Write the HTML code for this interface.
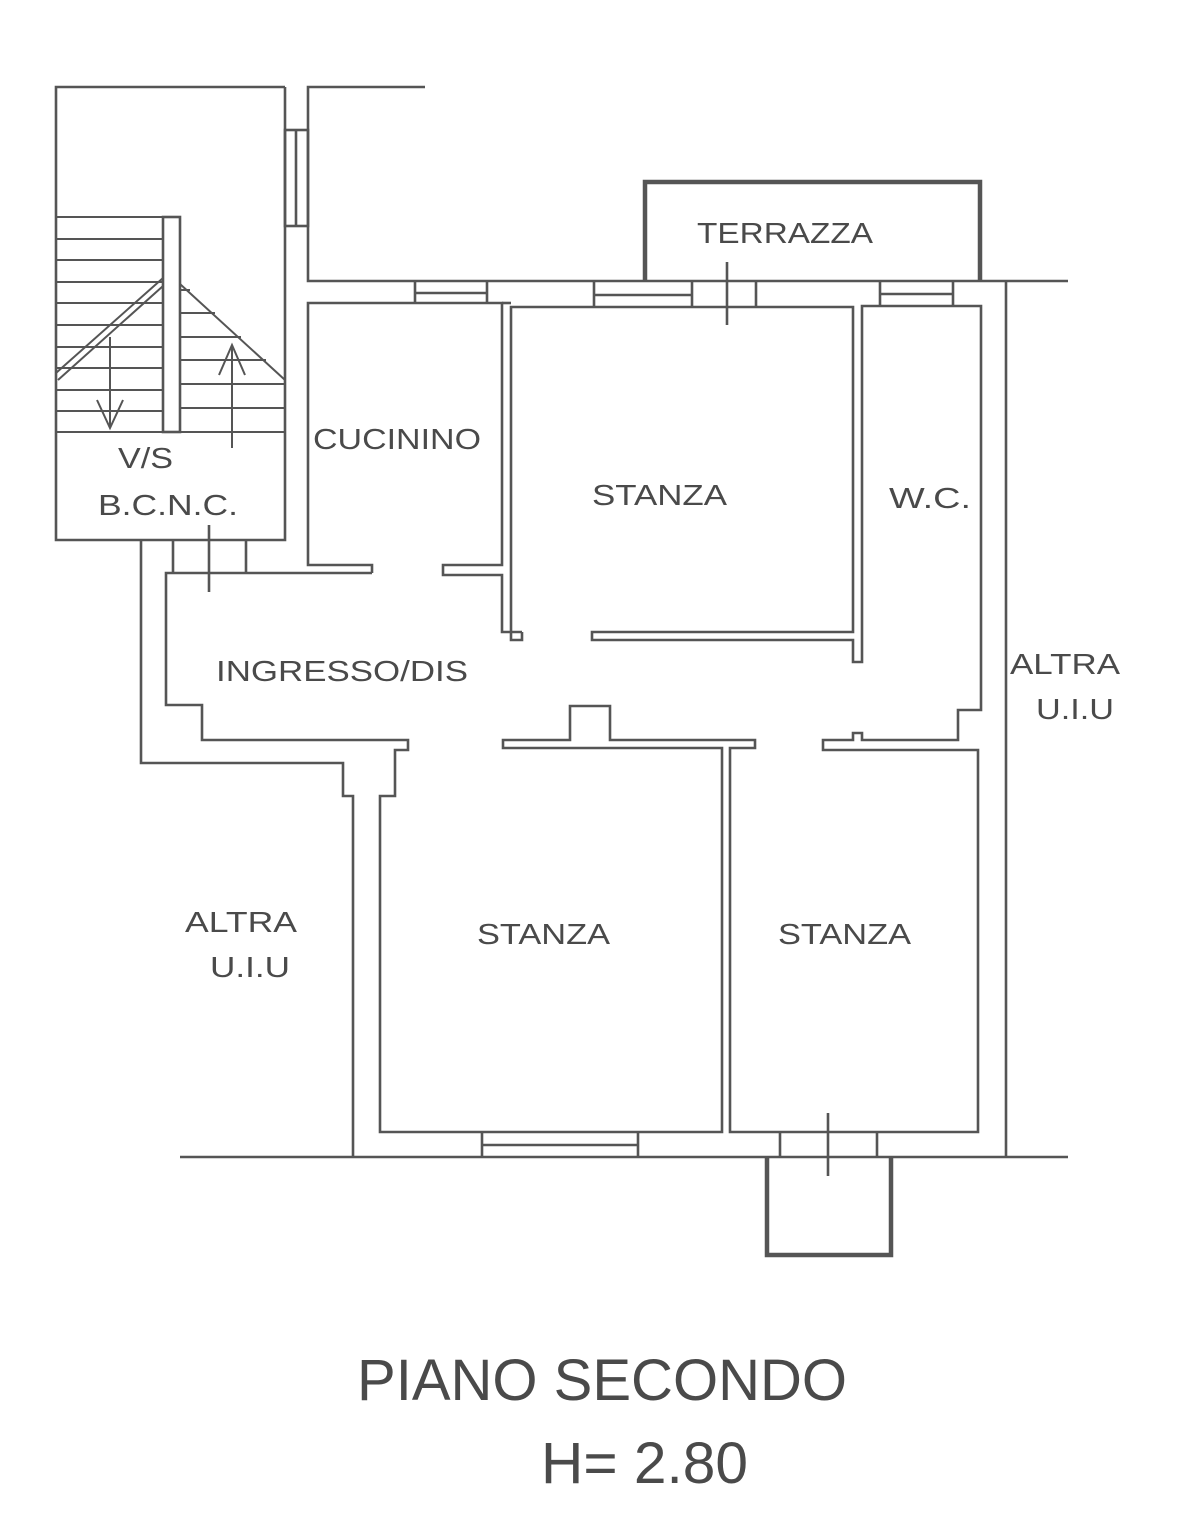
<!DOCTYPE html>
<html><head><meta charset="utf-8"><style>
html,body{margin:0;padding:0;background:#fff;}
svg{display:block;}
text{font-family:"Liberation Sans",sans-serif;fill:#4a4a4a;}
</style></head><body>
<svg width="1193" height="1523" viewBox="0 0 1193 1523" xmlns="http://www.w3.org/2000/svg">
<g fill="none" stroke="#555" stroke-width="2.6" stroke-linejoin="miter">
<!-- staircase box -->
<polyline points="285,87 56,87 56,540 285,540 285,87"/>
<!-- window in stair wall -->
<rect x="285" y="130" width="23" height="96"/>
<line x1="296" y1="130" x2="296" y2="226"/>
<!-- outer wall top-left -->
<polyline points="425,87 308,87 308,281 1068,281"/>
<!-- stairs -->
<rect x="163" y="217" width="17" height="215"/>
<g stroke-width="2">
<line x1="56" y1="217" x2="163" y2="217"/>
<line x1="56" y1="239" x2="163" y2="239"/>
<line x1="56" y1="260" x2="163" y2="260"/>
<line x1="56" y1="282" x2="163" y2="282"/>
<line x1="56" y1="303" x2="163" y2="303"/>
<line x1="56" y1="325" x2="163" y2="325"/>
<line x1="56" y1="347" x2="163" y2="347"/>
<line x1="56" y1="368" x2="163" y2="368"/>
<line x1="56" y1="390" x2="163" y2="390"/>
<line x1="56" y1="411" x2="163" y2="411"/>
<line x1="56" y1="432" x2="285" y2="432"/>
<line x1="180" y1="290" x2="190" y2="290"/>
<line x1="180" y1="313" x2="215" y2="313"/>
<line x1="180" y1="337" x2="241" y2="337"/>
<line x1="180" y1="360" x2="266" y2="360"/>
<line x1="180" y1="384" x2="285" y2="384"/>
<line x1="180" y1="408" x2="285" y2="408"/>
<line x1="56" y1="373" x2="163" y2="278"/>
<line x1="58" y1="380" x2="163" y2="286"/>
<line x1="180" y1="284" x2="285" y2="380"/>
<!-- arrows -->
<line x1="110" y1="337" x2="110" y2="428"/>
<polyline points="97,400 110,428 123,400"/>
<line x1="232" y1="448" x2="232" y2="345"/>
<polyline points="219,375 232,345 245,375"/>
</g>
<!-- stair door -->
<line x1="173" y1="540" x2="173" y2="573"/>
<line x1="246" y1="540" x2="246" y2="573"/>
<line x1="209" y1="525" x2="209" y2="592"/>
<!-- outer left wall -->
<polyline points="141,540 141,763 343,763 343,796 353,796 353,1157"/>
<!-- ingresso inner -->
<polyline points="372,573 166,573 166,705 202,705 202,740 408,740 408,750 395,750 395,796 380,796 380,1132 722,1132 722,748 503,748 503,740 570,740 570,706 610,706 610,740 755,740 755,748 730,748 730,1132 978,1132 978,750 823,750 823,740 853,740 853,733 862,733 862,740 958,740 958,710 981,710 981,306 862,306 862,662 853,662 853,640 592,640 592,632 853,632 853,307 511,307 511,640 522,640 522,632"/>
<!-- cucinino -->
<polyline points="372,573 372,565 308,565 308,303 502,303 502,565 443,565 443,575 502,575 502,632 522,632"/>
<!-- top wall inner segments/windows -->
<line x1="415" y1="281" x2="415" y2="303"/>
<line x1="487" y1="281" x2="487" y2="303"/>
<line x1="415" y1="293" x2="487" y2="293"/>
<line x1="502" y1="303" x2="511" y2="303"/>
<line x1="594" y1="281" x2="594" y2="307"/>
<line x1="692" y1="281" x2="692" y2="307"/>
<line x1="594" y1="295" x2="692" y2="295"/>
<line x1="756" y1="281" x2="756" y2="307"/>
<line x1="727" y1="262" x2="727" y2="325"/>
<line x1="880" y1="281" x2="880" y2="306"/>
<line x1="953" y1="281" x2="953" y2="306"/>
<line x1="880" y1="294" x2="953" y2="294"/>
<!-- right outer wall -->
<line x1="1006" y1="281" x2="1006" y2="1157"/>
<!-- bottom outer -->
<line x1="180" y1="1157" x2="1068" y2="1157"/>
<line x1="482" y1="1132" x2="482" y2="1157"/>
<line x1="638" y1="1132" x2="638" y2="1157"/>
<line x1="482" y1="1145" x2="638" y2="1145"/>
<line x1="780" y1="1132" x2="780" y2="1157"/>
<line x1="877" y1="1132" x2="877" y2="1157"/>
<line x1="828" y1="1113" x2="828" y2="1176"/>
</g>
<!-- terrazza & balcony thicker -->
<g fill="none" stroke="#555" stroke-width="4.5">
<polyline points="645,281 645,182 980,182 980,281"/>
<polyline points="767,1157 767,1255 891,1255 891,1157"/>
</g>
<g font-size="29" textLength="1">
<text x="697" y="243" textLength="176" lengthAdjust="spacingAndGlyphs">TERRAZZA</text>
<text x="313" y="449" textLength="168" lengthAdjust="spacingAndGlyphs">CUCININO</text>
<text x="592" y="505" textLength="135" lengthAdjust="spacingAndGlyphs">STANZA</text>
<text x="889" y="508" textLength="82" lengthAdjust="spacingAndGlyphs">W.C.</text>
<text x="118" y="468" textLength="55" lengthAdjust="spacingAndGlyphs">V/S</text>
<text x="98" y="515" textLength="140" lengthAdjust="spacingAndGlyphs">B.C.N.C.</text>
<text x="216" y="681" textLength="252" lengthAdjust="spacingAndGlyphs">INGRESSO/DIS</text>
<text x="1010" y="674" textLength="110" lengthAdjust="spacingAndGlyphs">ALTRA</text>
<text x="1036" y="719" textLength="78" lengthAdjust="spacingAndGlyphs">U.I.U</text>
<text x="185" y="932" textLength="112" lengthAdjust="spacingAndGlyphs">ALTRA</text>
<text x="210" y="977" textLength="80" lengthAdjust="spacingAndGlyphs">U.I.U</text>
<text x="477" y="944" textLength="133" lengthAdjust="spacingAndGlyphs">STANZA</text>
<text x="778" y="944" textLength="133" lengthAdjust="spacingAndGlyphs">STANZA</text>
</g>
<text x="357" y="1400" font-size="58" textLength="490" lengthAdjust="spacingAndGlyphs" fill="#333">PIANO SECONDO</text>
<text x="541" y="1483" font-size="58" textLength="207" lengthAdjust="spacingAndGlyphs" fill="#333">H= 2.80</text>
</svg>
</body></html>
